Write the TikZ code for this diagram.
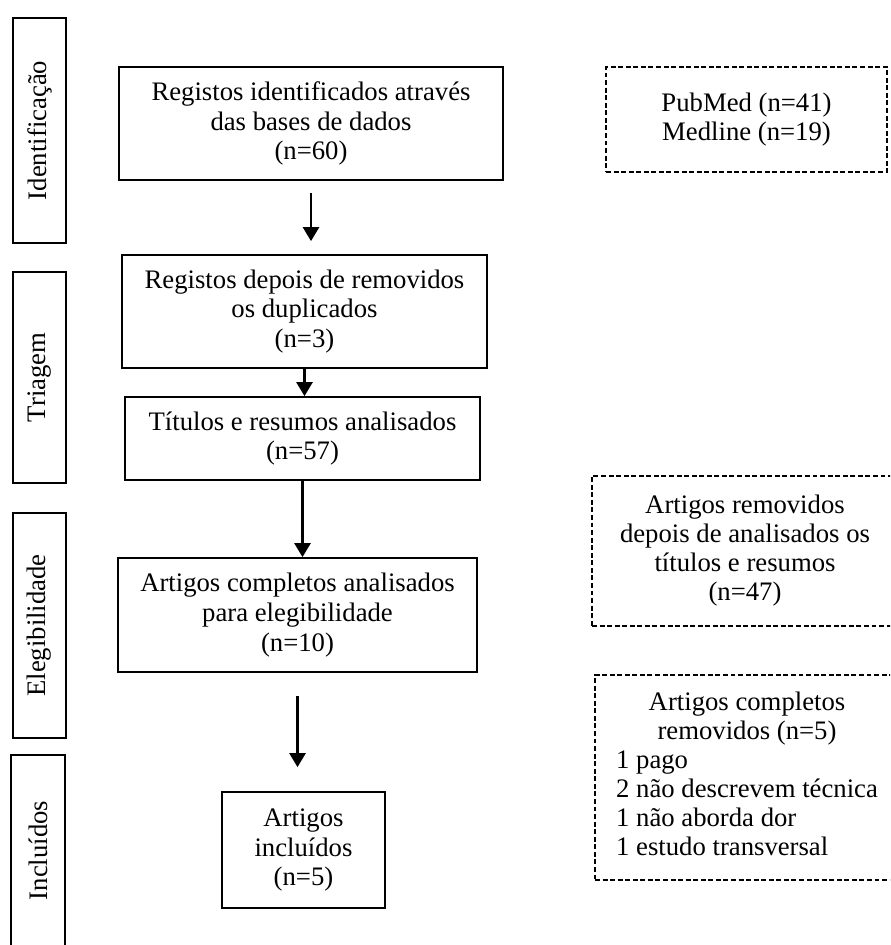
\documentclass[tikz,border=0pt]{standalone}
\usepackage{fontspec}
\setmainfont{Liberation Serif}
\usetikzlibrary{arrows.meta,positioning}

\begin{document}
\begin{tikzpicture}[x=0.02cm, y=-0.02cm,
  fase/.style={draw, line width=1pt, rotate=90, inner sep=0pt, minimum height=1.06cm, font=\fontsize{15.2}{17}\selectfont},
  caixa/.style={draw, line width=1pt, align=center, inner sep=0pt, font=\fontsize{15.2}{17}\selectfont},
  fonte/.style={draw, dash pattern=on 2.8pt off 1.5pt, line width=0.9pt, align=center, inner sep=0pt, font=\fontsize{15.2}{16.5}\selectfont},
  flow/.style={-{Triangle[length=2.8mm, width=3.2mm]}, line width=1.5pt}]
\useasboundingbox (0,0) rectangle (890,945);
\clip (0,0) rectangle (890,945);

\node[fase, minimum width=4.5cm]  (fid) at (39.5,130.5) {Identificação};
\node[fase, minimum width=4.22cm] (ftr) at (39.5,377.5) {Triagem};
\node[fase, minimum width=4.5cm]  (fel) at (39.5,625.5) {Elegibilidade};
\node[fase, draw=none, minimum width=3.78cm, minimum height=1.04cm] (fin) at (38,850.5) {Incluídos};
\draw[line width=1pt] (fin.north west) -- (fin.north east) -- (fin.south east) -- (fin.south west);

\node[caixa, minimum width=7.68cm, minimum height=2.26cm] (reg) at (311,123.5) {Registos identificados através\\das bases de dados\\(n=60)};
\node[caixa, minimum width=7.3cm, minimum height=2.26cm]  (dup) at (304.5,311.5) {Registos depois de removidos\\os duplicados\\(n=3)};
\node[caixa, minimum width=7.1cm, minimum height=1.66cm]  (tit) at (302.5,438.5) {Títulos e resumos analisados\\(n=57)};
\node[caixa, minimum width=7.18cm, minimum height=2.28cm] (com) at (297.5,615) {Artigos completos analisados\\para elegibilidade\\(n=10)};
\node[caixa, minimum width=3.26cm, minimum height=2.32cm] (inc) at (303.5,850) {Artigos\\incluídos\\(n=5)};

\node[fonte, minimum width=5.62cm, minimum height=2.1cm] (bases) at (746.5,119.5) {PubMed (n=41)\\Medline (n=19)};
\node[fonte, minimum width=6.12cm, minimum height=3cm]   (exc1) at (745,551) {Artigos removidos\\depois de analisados os\\títulos e resumos\\(n=47)};
\node[fonte, minimum width=6.08cm, minimum height=4.1cm] (exc2) at (747,777.5) {\begin{tabular}{@{}l@{}}
  \multicolumn{1}{@{}c@{}}{Artigos completos}\\
  \multicolumn{1}{@{}c@{}}{removidos (n=5)}\\
  1 pago\\
  2 não descrevem técnica\\
  1 não aborda dor\\
  1 estudo transversal
\end{tabular}};

\draw[flow, shorten <=0.24cm, shorten >=0.26cm] (reg.south) -- (reg.south |- dup.north);
\draw[flow] (dup.south) -- (dup.south |- tit.north);
\draw[flow] (tit.south) -- (tit.south |- com.north);
\draw[flow, shorten <=0.46cm, shorten >=0.48cm] (com.south) -- (com.south |- inc.north);
\end{tikzpicture}
\end{document}
